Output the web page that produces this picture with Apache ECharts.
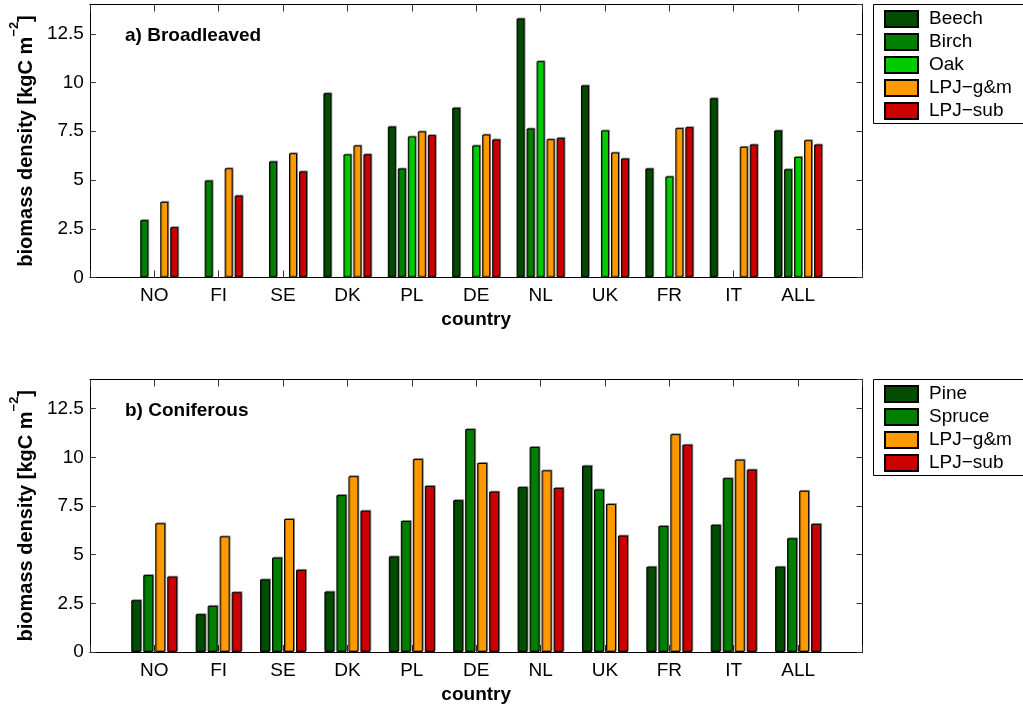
<!DOCTYPE html>
<html>
<head>
<meta charset="utf-8">
<title>Biomass density by country</title>
<script src="https://cdn.jsdelivr.net/npm/echarts@6/dist/echarts.min.js"></script>
<style>
  html, body { margin: 0; padding: 0; background: #fff; overflow: hidden; }
  #chart { width: 1023px; height: 709px; }
</style>
</head>
<body>
<div id="chart"></div>
<script>
// Countries along the x axis (plotted at positions 1..11 of a 0..12 range)
const countries = ['NO', 'FI', 'SE', 'DK', 'PL', 'DE', 'NL', 'UK', 'FR', 'IT', 'ALL'];

// a) Broadleaved stands, biomass density [kgC m^-2]; null = no data
const broadBeech  = [null, null, null, 9.45, 7.74, 8.70, 13.28, 9.85, 5.59, 9.19, 7.54];
const broadBirch  = [2.94, 4.97, 5.95, null, 5.59, null, 7.64, null, null, null, 5.55];
const broadOak    = [null, null, null, 6.31, 7.23, 6.77, 11.09, 7.54, 5.18, null, 6.18];
const broadLpjGm  = [3.88, 5.60, 6.37, 6.77, 7.49, 7.33, 7.09, 6.41, 7.66, 6.70, 7.04];
const broadLpjSub = [2.58, 4.20, 5.44, 6.32, 7.30, 7.08, 7.16, 6.10, 7.71, 6.82, 6.82];

// b) Coniferous stands
const conPine   = [2.66, 1.94, 3.73, 3.10, 4.91, 7.80, 8.47, 9.57, 4.38, 6.53, 4.38];
const conSpruce = [3.95, 2.37, 4.85, 8.06, 6.73, 11.45, 10.53, 8.35, 6.47, 8.93, 5.84];
const conLpjGm  = [6.61, 5.94, 6.83, 9.03, 9.91, 9.71, 9.33, 7.60, 11.19, 9.88, 8.28];
const conLpjSub = [3.87, 3.07, 4.22, 7.26, 8.53, 8.24, 8.43, 5.98, 10.65, 9.37, 6.58];

// y axis: 0..14, ticks every 2.5
const yMin = 0, yMax = 14, yStep = 2.5;

const FONT = '"Liberation Sans", Arial, Helvetica, sans-serif';
const COLORS = {
  dark: '#004c00',
  mid: '#007f00',
  light: '#00cc00',
  gm: '#ff9900',
  sub: '#cc0000'
};

// empty slots at both ends so the countries sit at 1..11 on a 0..12 axis
const xCats = [''].concat(countries, ['']);
const pad = arr => [null].concat(arr, [null]);

const tickColor = '#333';

function xAxes(grid) {
  return [
    {
      type: 'category', gridIndex: grid, data: xCats, boundaryGap: false,
      position: 'bottom',
      name: 'country', nameLocation: 'middle', nameGap: 33,
      nameTextStyle: { fontFamily: FONT, fontSize: 19, fontWeight: 'bold', color: '#000' },
      axisLine: { show: true, onZero: false, lineStyle: { color: '#000', width: 1 } },
      axisTick: { show: true, inside: true, length: 7, interval: 0, lineStyle: { color: tickColor } },
      axisLabel: { interval: 0, margin: 9, fontFamily: FONT, fontSize: 19, color: '#000' },
      splitLine: { show: false }
    },
    {
      type: 'category', gridIndex: grid, data: xCats, boundaryGap: false,
      position: 'top',
      axisLine: { show: true, onZero: false, lineStyle: { color: '#000', width: 1 } },
      axisTick: { show: true, inside: true, length: 7, interval: 0, lineStyle: { color: tickColor } },
      axisLabel: { show: false },
      splitLine: { show: false }
    }
  ];
}

function yAxes(grid) {
  return [
    {
      type: 'value', gridIndex: grid, min: yMin, max: yMax, interval: yStep,
      position: 'left',
      name: '{a|biomass density [kgC m}{s|\u22122}{a|]}',
      nameLocation: 'middle', nameGap: 52, nameRotate: 90,
      nameTextStyle: {
        fontFamily: FONT, fontSize: 20, fontWeight: 'bold', color: '#000',
        rich: {
          a: { fontFamily: FONT, fontSize: 20, fontWeight: 'bold', color: '#000', lineHeight: 28, verticalAlign: 'bottom' },
          s: { fontFamily: FONT, fontSize: 13, fontWeight: 'bold', color: '#000', lineHeight: 28, verticalAlign: 'top' }
        }
      },
      axisLine: { show: true, lineStyle: { color: '#000', width: 1 } },
      axisTick: { show: true, inside: true, length: 6, lineStyle: { color: tickColor } },
      axisLabel: { margin: 6, showMaxLabel: false, fontFamily: FONT, fontSize: 19, color: '#000' },
      splitLine: { show: false }
    },
    {
      type: 'value', gridIndex: grid, min: yMin, max: yMax, interval: yStep,
      position: 'right',
      axisLine: { show: true, lineStyle: { color: '#000', width: 1 } },
      axisTick: { show: true, inside: true, length: 6, lineStyle: { color: tickColor } },
      axisLabel: { show: false },
      splitLine: { show: false }
    }
  ];
}

function barSeries(name, values, color, xi, yi, width, gap) {
  return {
    type: 'bar', name: name, data: pad(values),
    xAxisIndex: xi, yAxisIndex: yi,
    barWidth: width, barGap: gap,
    itemStyle: {
      color: color, borderColor: '#000', borderWidth: 1,
      shadowColor: 'rgba(0,0,0,0.35)', shadowOffsetX: 1, shadowOffsetY: -1, shadowBlur: 0
    },
    emphasis: { disabled: true },
    animation: false
  };
}

function legend(names, top) {
  return {
    data: names,
    orient: 'vertical',
    left: 873, top: top,
    padding: [5, 0, 4, 11],
    itemWidth: 33, itemHeight: 16, itemGap: 4,
    icon: 'rect',
    borderWidth: 0,
    selectedMode: false,
    textStyle: { fontFamily: FONT, fontSize: 19, color: '#000', padding: [0, 0, 0, 6] }
  };
}

// legend frame: left, top and bottom edges only, open to the right
function legendFrame(top, height) {
  const x0 = 873.5, x1 = 1030, y0 = top, y1 = top + height;
  return {
    type: 'polyline', z: 3,
    shape: { points: [[x1, y0], [x0, y0], [x0, y1], [x1, y1]] },
    style: { fill: null, stroke: '#000', lineWidth: 1 }
  };
}

const chart = echarts.init(document.getElementById('chart'), null, { renderer: 'canvas' });

chart.setOption({
  animation: false,
  backgroundColor: '#fff',
  textStyle: { fontFamily: FONT },
  title: [
    { text: 'a) Broadleaved', left: 120, top: 21,
      textStyle: { fontFamily: FONT, fontSize: 19, fontWeight: 'bold', color: '#000' } },
    { text: 'b) Coniferous', left: 120, top: 396,
      textStyle: { fontFamily: FONT, fontSize: 19, fontWeight: 'bold', color: '#000' } }
  ],
  grid: [
    { left: 88.5, width: 774, top: 4.5, height: 273 },
    { left: 88.5, width: 774, top: 379.5, height: 272.5 }
  ],
  xAxis: xAxes(0).concat(xAxes(1)),
  yAxis: yAxes(0).concat(yAxes(1)),
  graphic: [legendFrame(4.5, 119), legendFrame(379.5, 96)],
  legend: [
    legend(['Beech', 'Birch', 'Oak', 'LPJ\u2212g&m', 'LPJ\u2212sub'], 4.5),
    legend(['Pine', 'Spruce', 'LPJ\u2212g&m ', 'LPJ\u2212sub '], 379.5)
  ],
  tooltip: { show: false },
  series: [
    barSeries('Beech', broadBeech, COLORS.dark, 0, 0, 8, '25%'),
    barSeries('Birch', broadBirch, COLORS.mid, 0, 0, 8, '25%'),
    barSeries('Oak', broadOak, COLORS.light, 0, 0, 8, '25%'),
    barSeries('LPJ\u2212g&m', broadLpjGm, COLORS.gm, 0, 0, 8, '25%'),
    barSeries('LPJ\u2212sub', broadLpjSub, COLORS.sub, 0, 0, 8, '25%'),

    barSeries('Pine', conPine, COLORS.dark, 2, 2, 10, '20%'),
    barSeries('Spruce', conSpruce, COLORS.mid, 2, 2, 10, '20%'),
    barSeries('LPJ\u2212g&m ', conLpjGm, COLORS.gm, 2, 2, 10, '20%'),
    barSeries('LPJ\u2212sub ', conLpjSub, COLORS.sub, 2, 2, 10, '20%')
  ]
});
</script>
</body>
</html>
